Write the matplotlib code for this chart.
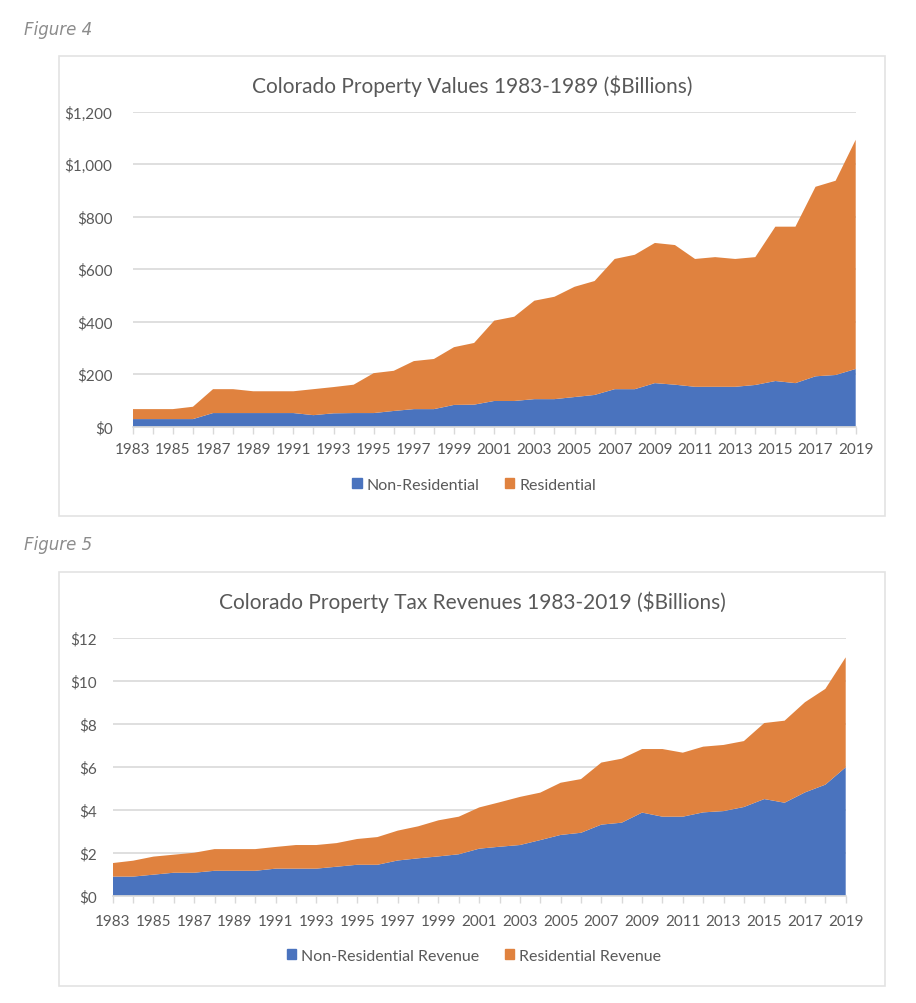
import matplotlib
matplotlib.use("Agg")
import matplotlib.pyplot as plt
from matplotlib.patches import Rectangle, Patch
from matplotlib.ticker import FuncFormatter, MultipleLocator

# data
years = list(range(1983, 2020))

# Figure 4: property values, $ billions
nonres_value = [29, 29, 29, 29, 52, 52, 52, 52, 52, 44, 51, 52, 52, 60, 67, 67, 83, 84,
                98, 98, 105, 105, 113, 121, 143, 143, 166, 160, 152, 152, 152, 159,
                174, 166, 192, 197, 220]
total_value = [67, 67, 67, 76, 143, 143, 135, 135, 135, 143, 151, 160, 204, 213, 250, 258,
               303, 319, 404, 419, 480, 495, 533, 555, 639, 655, 700, 692, 639, 646, 639,
               646, 762, 762, 914, 937, 1093]
res_value = [t - n for t, n in zip(total_value, nonres_value)]

# Figure 5: property tax revenues, $ billions
nonres_rev = [0.89, 0.89, 0.98, 1.07, 1.07, 1.16, 1.16, 1.16, 1.26, 1.26, 1.26, 1.35, 1.44,
              1.44, 1.64, 1.74, 1.83, 1.93, 2.19, 2.28, 2.36, 2.59, 2.83, 2.93, 3.31, 3.40,
              3.87, 3.68, 3.68, 3.88, 3.94, 4.13, 4.50, 4.33, 4.81, 5.17, 5.98]
total_rev = [1.52, 1.63, 1.82, 1.91, 2.00, 2.17, 2.17, 2.17, 2.27, 2.36, 2.36, 2.45, 2.64,
             2.73, 3.03, 3.23, 3.51, 3.68, 4.11, 4.35, 4.60, 4.80, 5.26, 5.43, 6.20, 6.38,
             6.83, 6.83, 6.66, 6.94, 7.02, 7.20, 8.04, 8.15, 9.01, 9.63, 11.10]
res_rev = [t - n for t, n in zip(total_rev, nonres_rev)]

BLUE = "#4A73BE"
ORANGE = "#E0823F"
GRID = "#D9D9D9"
TEXT = "#595959"
FONT = ["Lato", "DejaVu Sans"]

W, H = 916, 1004
plt.rcParams["font.family"] = FONT

fig = plt.figure(figsize=(W / 100, H / 100), dpi=100)
fig.patch.set_facecolor("white")


def px_rect(x0, y0, x1, y1):
    # pixel box (top-left origin) -> figure fraction rect
    return [x0 / W, 1 - y1 / H, (x1 - x0) / W, (y1 - y0) / H]


def frame(x0, y0, x1, y1):
    r = Rectangle((x0 / W, 1 - y1 / H), (x1 - x0) / W, (y1 - y0) / H,
                  transform=fig.transFigure, fill=False, edgecolor="#E3E3E3", lw=1.2)
    fig.add_artist(r)


def area_chart(rect, nonres, res, labels, ymax, step, fmt, title, title_y,
               legend_y, ypad, xpad, tick_size):
    ax = fig.add_axes(rect)
    ax.stackplot(years, nonres, res, colors=[BLUE, ORANGE], labels=labels, lw=0)
    ax.set_xlim(years[0], years[-1])
    ax.set_ylim(0, ymax)
    ax.yaxis.set_major_locator(MultipleLocator(step))
    ax.yaxis.set_major_formatter(FuncFormatter(fmt))
    ax.set_xticks(years[::2])
    ax.set_xticks(years, minor=True)
    ax.grid(axis="y", color=GRID, lw=1.2)
    ax.set_axisbelow(True)
    for s in ["top", "right", "left"]:
        ax.spines[s].set_visible(False)
    ax.spines["bottom"].set_color(GRID)
    ax.spines["bottom"].set_linewidth(1.2)
    ax.tick_params(axis="y", length=0, pad=ypad, labelsize=tick_size, labelcolor=TEXT)
    ax.tick_params(axis="x", which="both", length=5, color=GRID, width=1,
                   labelsize=tick_size, labelcolor=TEXT, pad=xpad)
    fig.text(472 / W, 1 - title_y / H, title, ha="center", va="center",
             fontsize=15, color=TEXT)
    handles = [Patch(color=BLUE, label=labels[0]), Patch(color=ORANGE, label=labels[1])]
    fig.legend(handles=handles, loc="center", bbox_to_anchor=(474 / W, 1 - legend_y / H),
               ncol=2, frameon=False, fontsize=11.5, labelcolor=TEXT,
               handlelength=0.6, handleheight=0.6, handletextpad=0.3,
               columnspacing=1.6)
    return ax


# Figure 4
fig.text(24 / W, 1 - 30 / H, "Figure 4", style="italic", color="#8C8C8C",
         fontsize=12, family="DejaVu Sans", va="center")
frame(59, 57, 885, 517)
area_chart(px_rect(132.7, 112.7, 855.7, 427.7), nonres_value, res_value,
           ["Non-Residential", "Residential"], 1200, 200,
           lambda v, p: f"${v:,.0f}",
           "Colorado Property Values 1983-1989 ($Billions)", 86, 486, 14.5, 6, 11)

# Figure 5
fig.text(24 / W, 1 - 545 / H, "Figure 5", style="italic", color="#8C8C8C",
         fontsize=12, family="DejaVu Sans", va="center")
frame(59, 573, 885, 987)
area_chart(px_rect(112.7, 639, 845.7, 896.7), nonres_rev, res_rev,
           ["Non-Residential Revenue", "Residential Revenue"], 12, 2,
           lambda v, p: f"${v:.0f}",
           "Colorado Property Tax Revenues 1983-2019 ($Billions)", 602, 957, 11.5, 8, 11)

fig.savefig("out.png", dpi=100, facecolor="white")
